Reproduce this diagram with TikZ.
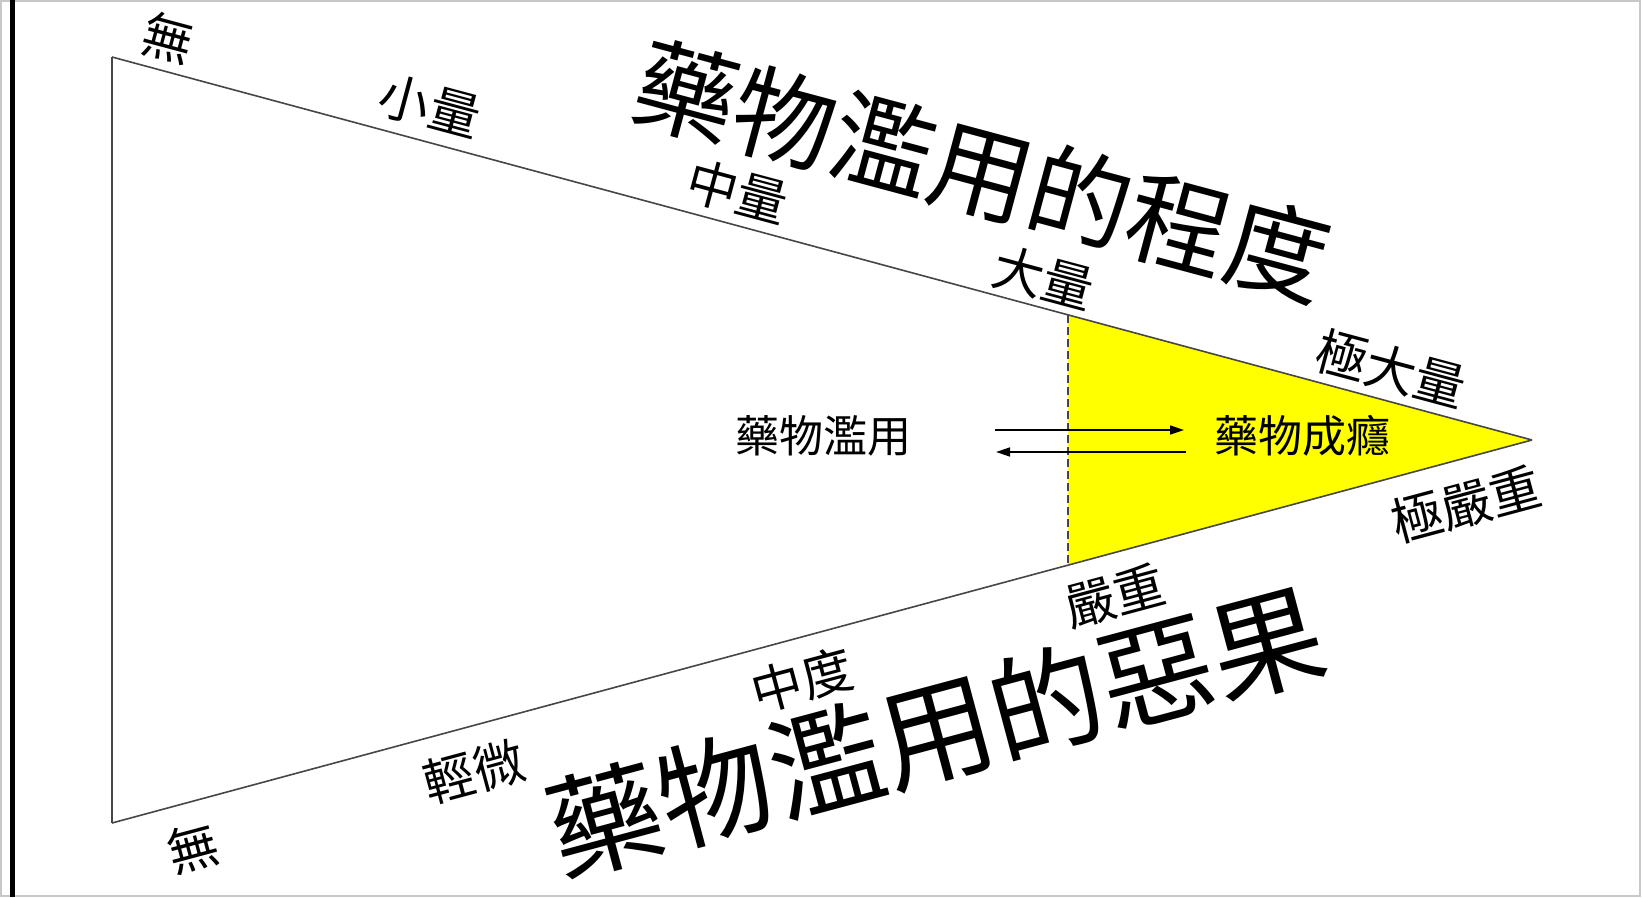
\documentclass[tikz,border=0pt]{standalone}
\usepackage{fontspec}
\newfontfamily\cjk{Noto Sans CJK TC}
\usetikzlibrary{arrows.meta}
\definecolor{edgegray}{RGB}{70,70,70}
\definecolor{framegray}{RGB}{200,200,200}
\definecolor{pureyellow}{RGB}{255,255,0}
\tikzset{
  edge/.style={draw=edgegray,line width=1.6pt},
  cutline/.style={draw=edgegray,line width=1.6pt,dash pattern=on 8pt off 4pt},
  lbl/.style={inner sep=0pt,font=\cjk\fontsize{51}{51}\selectfont},
  lbltop/.style={lbl,rotate=-15},
  lblbot/.style={lbl,rotate=15},
  midtext/.style={inner sep=0pt,font=\cjk\fontsize{44}{44}\selectfont},
  bigtitle/.style={inner sep=0pt},
  arr/.style={draw=black,line width=1.6pt,-{Triangle[length=14pt,width=9pt]}}
}
\begin{document}
\begin{tikzpicture}[x=1pt,y=-1pt]
\useasboundingbox (0,0) rectangle (1643,897);
% frame
\draw[framegray,line width=2pt] (1,1) rectangle (1640,896);
\draw[black,line width=5pt] (12,0) -- (12,897);
% triangle corners
\coordinate (tl) at (112,57);
\coordinate (bl) at (112,823);
\coordinate (apex) at (1532,440);
\coordinate (d1) at (1068,314.5);
\coordinate (d2) at (1068,565.5);
% yellow part
\fill[pureyellow] (d1) -- (apex) -- (d2) -- cycle;
\draw[cutline] (d1) -- (d2);
% edges
\draw[edge] (tl) -- (apex);
\draw[edge] (bl) -- (apex);
\draw[edge] (tl) -- (bl);
% top labels
\node[lbltop] (t0) at (168,38) {無};
\node[lbltop] (t1) at (430,106) {小量};
\node[lbltop] (t2) at (738,192) {中量};
\node[lbltop] (t3) at (1044,278) {大量};
\node[lbltop] (t4) at (1391,369) {極大量};
% bottom labels
\node[lblbot] (b0) at (193,848) {無};
\node[lblbot] (b1) at (474,772) {輕微};
\node[lblbot] (b2) at (802,680) {中度};
\node[lblbot] (b3) at (1115,596) {嚴重};
\node[lblbot] (b4) at (1466,504) {極嚴重};
% titles
\node[bigtitle,rotate=-15,font=\cjk\fontsize{102}{102}\selectfont] (title1) at (982,171) {藥物濫用的程度};
\node[bigtitle,rotate=15,font=\cjk\fontsize{114}{114}\selectfont] (title2) at (936,731) {藥物濫用的惡果};
% middle texts
\node[midtext] (abuse) at (823,436) {藥物濫用};
\node[midtext] (addict) at (1302,436) {藥物成癮};
\coordinate (a1s) at (995,430);
\coordinate (a1e) at (1184,430);
\coordinate (a2s) at (1186,452);
\coordinate (a2e) at (996,452);
\draw[arr] (a1s) -- (a1e);
\draw[arr] (a2s) -- (a2e);
\end{tikzpicture}
\end{document}
